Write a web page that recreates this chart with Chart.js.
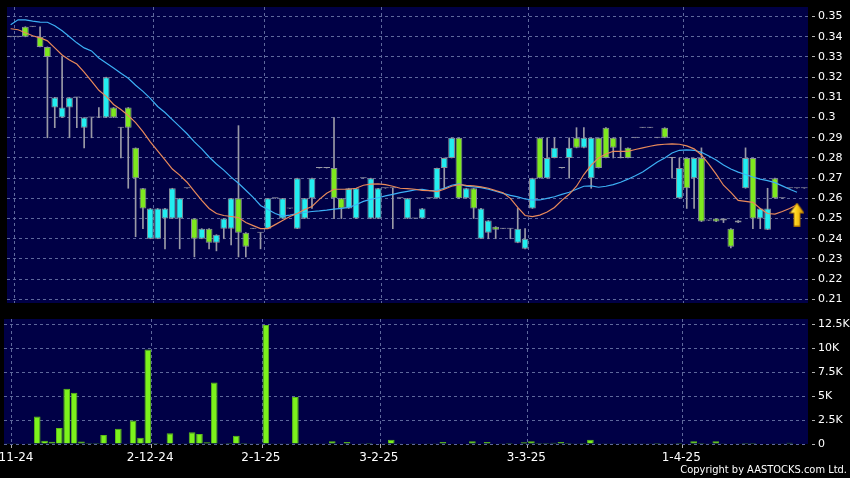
<!DOCTYPE html>
<html>
<head>
<meta charset="utf-8">
<script src="https://cdn.jsdelivr.net/npm/chart.js@4.4.1/dist/chart.umd.min.js"></script>
<style>
html,body{margin:0;padding:0;background:#000;}
#wrap{position:relative;width:850px;height:478px;overflow:hidden;background:#000;}
#price{position:absolute;left:0;top:0;}
#vol{position:absolute;left:0;top:310px;}
#copy{position:absolute;right:3px;top:464px;color:#fff;font-family:"DejaVu Sans Condensed","DejaVu Sans",sans-serif;font-stretch:condensed;font-size:11px;line-height:12px;white-space:nowrap;}
</style>
</head>
<body>
<div id="wrap">
<canvas id="price" width="850" height="310"></canvas>
<canvas id="vol" width="850" height="168"></canvas>
<div id="copy">Copyright by AASTOCKS.com Ltd.</div>
</div>
<script>
// ---- data (one entry per trading slot) ----
const monthTickIndex = [1, 20, 35, 51, 71, 92];
const monthTickText = ['1-11-24', '2-12-24', '2-1-25', '3-2-25', '3-3-25', '1-4-25'];

const open = [
0.34,0.34,0.345,0.345,0.34,0.335,0.305,0.30,0.305,0.31,
0.295,0.30,0.30,0.30,0.305,0.295,0.305,0.285,0.265,0.24,
0.24,0.25,0.25,0.25,0.265,0.25,0.24,0.245,0.238,0.245,
0.245,0.26,0.243,0.245,0.243,0.245,0.26,0.25,0.255,0.245,
0.25,0.26,0.275,0.275,0.275,0.26,0.255,0.25,0.27,0.25,
0.25,0.265,0.265,0.26,0.25,0.25,0.25,0.26,0.26,0.275,
0.28,0.29,0.26,0.265,0.24,0.243,0.246,0.245,0.245,0.238,
0.235,0.255,0.29,0.27,0.28,0.275,0.28,0.29,0.285,0.27,
0.29,0.295,0.29,0.28,0.285,0.29,0.295,0.295,0.29,0.295,
0.28,0.26,0.28,0.27,0.28,0.249,0.25,0.25,0.245,0.248,
0.265,0.28,0.25,0.2445,0.27,0.26,0.265,0.265,0.265];
const high = [
0.34,0.34,0.345,0.345,0.345,0.335,0.31,0.33,0.31,0.31,
0.30,0.30,0.305,0.32,0.305,0.295,0.305,0.285,0.265,0.255,
0.255,0.255,0.265,0.26,0.265,0.25,0.245,0.245,0.242,0.25,
0.26,0.296,0.243,0.245,0.243,0.26,0.26,0.26,0.255,0.27,
0.26,0.27,0.275,0.275,0.30,0.26,0.265,0.265,0.27,0.27,
0.265,0.265,0.265,0.26,0.26,0.25,0.255,0.26,0.275,0.28,
0.29,0.29,0.265,0.265,0.255,0.249,0.246,0.245,0.245,0.255,
0.245,0.27,0.29,0.29,0.29,0.275,0.29,0.295,0.295,0.29,
0.29,0.295,0.29,0.29,0.285,0.29,0.295,0.295,0.29,0.295,
0.28,0.28,0.28,0.28,0.285,0.249,0.25,0.25,0.245,0.249,
0.285,0.28,0.255,0.265,0.27,0.26,0.265,0.265,0.265];
const low = [
0.34,0.34,0.34,0.345,0.335,0.29,0.295,0.30,0.29,0.295,
0.285,0.29,0.30,0.30,0.30,0.28,0.265,0.241,0.245,0.24,
0.24,0.235,0.25,0.235,0.265,0.231,0.24,0.235,0.234,0.24,
0.237,0.231,0.231,0.245,0.235,0.245,0.26,0.25,0.255,0.245,
0.25,0.255,0.275,0.275,0.25,0.25,0.255,0.25,0.27,0.25,
0.25,0.265,0.245,0.26,0.25,0.25,0.25,0.26,0.26,0.265,
0.28,0.26,0.26,0.25,0.24,0.24,0.24,0.245,0.24,0.238,
0.235,0.255,0.27,0.27,0.28,0.275,0.27,0.285,0.285,0.265,
0.275,0.28,0.28,0.28,0.28,0.29,0.295,0.295,0.29,0.29,
0.27,0.26,0.255,0.255,0.2485,0.249,0.2485,0.248,0.2355,0.248,
0.265,0.245,0.245,0.2445,0.26,0.26,0.265,0.265,0.265];
const close = [
0.34,0.34,0.34,0.345,0.335,0.33,0.31,0.305,0.31,0.31,
0.30,0.30,0.30,0.32,0.30,0.295,0.295,0.27,0.255,0.255,
0.255,0.255,0.265,0.26,0.265,0.24,0.245,0.238,0.242,0.25,
0.26,0.243,0.236,0.245,0.243,0.26,0.26,0.26,0.255,0.27,
0.26,0.27,0.275,0.275,0.26,0.255,0.265,0.265,0.27,0.27,
0.265,0.265,0.265,0.26,0.26,0.25,0.255,0.26,0.275,0.28,
0.29,0.26,0.265,0.255,0.255,0.249,0.2445,0.245,0.245,0.245,
0.24,0.27,0.27,0.28,0.285,0.275,0.285,0.285,0.29,0.29,
0.275,0.28,0.285,0.28,0.28,0.29,0.295,0.295,0.29,0.29,
0.28,0.275,0.265,0.28,0.2485,0.249,0.2485,0.249,0.236,0.249,
0.28,0.25,0.255,0.255,0.26,0.26,0.265,0.265,0.265];
const volume = [
20,20,50,20,2860,350,240,1680,5760,5340,
250,100,100,940,30,1600,30,2440,660,9850,
100,30,1110,60,20,1220,1050,170,6420,30,
100,870,100,20,20,12400,30,80,30,4890,
80,30,20,20,280,50,200,40,20,100,
40,20,450,30,60,20,40,30,80,200,
50,60,40,280,60,200,50,30,100,40,
170,280,100,100,120,200,100,30,100,450,
80,80,80,20,30,20,20,20,100,30,
30,100,40,280,100,30,280,80,40,30,
100,100,40,40,30,30,130,0,0];
const maFast = [
0.3440,0.3435,0.3420,0.3405,0.3395,0.3380,0.3345,0.3310,0.3285,0.3265,
0.3225,0.3180,0.3135,0.3105,0.3065,0.3040,0.3010,0.2975,0.2930,0.2880,
0.2835,0.2790,0.2745,0.2715,0.2680,0.2635,0.2590,0.2550,0.2525,0.2515,
0.2510,0.2505,0.2480,0.2465,0.2450,0.2450,0.2470,0.2490,0.2510,0.2525,
0.2545,0.2560,0.2595,0.2625,0.2645,0.2645,0.2645,0.2650,0.2665,0.2670,
0.2672,0.2668,0.2660,0.2650,0.2648,0.2645,0.2640,0.2638,0.2633,0.2645,
0.2660,0.2668,0.2664,0.2662,0.2657,0.2650,0.2638,0.2628,0.2600,0.2555,
0.2515,0.2510,0.2517,0.2532,0.2555,0.2590,0.2620,0.2660,0.2718,0.2765,
0.2800,0.2820,0.2833,0.2833,0.2833,0.2842,0.2850,0.2858,0.2865,0.2868,
0.2870,0.2868,0.2860,0.2845,0.2815,0.2770,0.2720,0.2665,0.2630,0.2590,
0.2585,0.2580,0.2550,0.2525,0.2522,0.2535,0.2550,0.2568,null];
const maSlow = [
0.3460,0.3484,0.3484,0.3478,0.3473,0.3472,0.3455,0.3430,0.3400,0.3370,
0.3345,0.3330,0.3295,0.3270,0.3245,0.3220,0.3195,0.3160,0.3130,0.3095,
0.3055,0.3025,0.2990,0.2955,0.2920,0.2880,0.2845,0.2805,0.2770,0.2740,
0.2705,0.2675,0.2640,0.2605,0.2565,0.2545,0.2525,0.2512,0.2517,0.2525,
0.2530,0.2535,0.2538,0.2542,0.2547,0.2550,0.2555,0.2568,0.2585,0.2595,
0.2603,0.2612,0.2620,0.2628,0.2635,0.2642,0.2645,0.2638,0.2640,0.2650,
0.2665,0.2672,0.2661,0.2657,0.2653,0.2645,0.2635,0.2625,0.2615,0.2607,
0.2597,0.2592,0.2592,0.2600,0.2608,0.2620,0.2630,0.2645,0.2660,0.2662,
0.2655,0.2660,0.2668,0.2680,0.2695,0.2712,0.2730,0.2755,0.2780,0.2800,
0.2825,0.2838,0.2840,0.2838,0.2828,0.2810,0.2790,0.2765,0.2745,0.2730,
0.2718,0.2706,0.2695,0.2688,0.2678,0.2662,0.2645,0.2630,null];
const signalIndex = [107];
const signalPrice = [0.252];
const priceTicks = [0.21,0.22,0.23,0.24,0.25,0.26,0.27,0.28,0.29,0.30,0.31,0.32,0.33,0.34,0.35];
const volTicks = [0, 2500, 5000, 7500, 10000, 12500];
const volTickText = ['0', '2.5K', '5K', '7.5K', '10K', '12.5K'];

// ---- derived structures for the library ----
const N = open.length;
const labels = new Array(N).fill('');
monthTickIndex.forEach((k, j) => { labels[k] = monthTickText[j]; });
const bodies = open.map((o, i) => [Math.min(o, close[i]), Math.max(o, close[i])]);
const wicks = low.map((l, i) => [l, high[i]]);
const signal = new Array(N).fill(null);
signalIndex.forEach((k, j) => { signal[k] = signalPrice[j]; });

const NAVY = '#000046';
const GRID = '#5e689c';
const CYAN = '#22eef0';
const GREEN = '#7ee81e';
const GRAY = '#9a9aa6';
const clear = 'rgba(0,0,0,0)';

const bgPlugin = {
  id: 'bgPanel',
  beforeDraw(chart) {
    const a = chart.chartArea, c = chart.ctx;
    c.save(); c.fillStyle = NAVY;
    c.fillRect(a.left, a.top, a.right - a.left, a.bottom - a.top);
    c.restore();
  }
};

// arrow marker image
const arrow = document.createElement('canvas');
arrow.width = 15; arrow.height = 24;
(function () {
  const g = arrow.getContext('2d');
  const grad = g.createLinearGradient(0, 0, 15, 0);
  grad.addColorStop(0, '#fff58a'); grad.addColorStop(0.45, '#ffd21a'); grad.addColorStop(1, '#d08f00');
  g.fillStyle = grad;
  g.beginPath();
  g.moveTo(7.5, 0.5); g.lineTo(14.5, 10.5); g.lineTo(10.5, 10.5); g.lineTo(10.5, 23.5);
  g.lineTo(4.5, 23.5); g.lineTo(4.5, 10.5); g.lineTo(0.5, 10.5); g.closePath();
  g.fill();
  g.strokeStyle = '#a86f00'; g.lineWidth = 1; g.stroke();
})();

const xGridColor = ctx => (ctx.tick && ctx.tick.label) ? GRID : clear;
const bodyColor = ctx => {
  const i = ctx.dataIndex;
  if (close[i] > open[i]) return CYAN;
  if (close[i] < open[i]) return GREEN;
  return GRAY;
};
const bodyBorder = ctx => {
  const i = ctx.dataIndex;
  return close[i] === open[i] ? GRAY : '#8a8f98';
};

Chart.defaults.font.family = 'DejaVu Sans';

new Chart(document.getElementById('price'), {
  type: 'bar',
  data: {
    labels: labels,
    datasets: [
      { type: 'line', label: 'signal', data: signal, showLine: false, pointStyle: arrow, pointRadius: 6, order: -1 },
      { type: 'line', label: 'MA10', data: maFast, borderColor: '#e8895a', borderWidth: 1.2, pointRadius: 0, tension: 0, order: 0 },
      { type: 'line', label: 'MA20', data: maSlow, borderColor: '#3cb0f5', borderWidth: 1.2, pointRadius: 0, tension: 0, order: 0 },
      { type: 'bar', label: 'body', data: bodies, grouped: false, barPercentage: 0.92, categoryPercentage: 1,
        minBarLength: 1, backgroundColor: bodyColor, borderColor: bodyBorder, borderWidth: 1, borderSkipped: false, order: 1 },
      { type: 'bar', label: 'wick', data: wicks, grouped: false, barThickness: 1, backgroundColor: GRAY, order: 2 }
    ]
  },
  options: {
    responsive: false, animation: false, devicePixelRatio: 1, events: [],
    layout: { padding: { left: 4, top: 6, right: 0, bottom: 5 } },
    plugins: { legend: { display: false }, tooltip: { enabled: false } },
    scales: {
      x: {
        offset: true,
        grid: { offset: true, color: xGridColor, drawTicks: false, borderDash: [3, 3] },
        border: { display: false, dash: [3, 3] },
        ticks: { display: false, autoSkip: false, maxRotation: 0, minRotation: 0 },
        afterFit: s => { s.height = 0; s.paddingLeft = 0; s.paddingRight = 0; }
      },
      y: {
        position: 'right', min: 0.20818, max: 0.35476,
        afterBuildTicks: s => { s.ticks = priceTicks.map(v => ({ value: v })); },
        ticks: { color: '#ffffff', font: { size: 11 }, padding: 3,
          callback: v => String(+Number(v).toFixed(2)) },
        grid: { color: GRID, borderDash: [3, 3], tickLength: 7, tickColor: '#b0b0b0',
          tickBorderDash: [4, 4], tickBorderDashOffset: 4 },
        border: { display: false, dash: [3, 3] },
        afterFit: s => { s.width = 42; s.paddingTop = 0; s.paddingBottom = 0; }
      }
    }
  },
  plugins: [bgPlugin]
});

new Chart(document.getElementById('vol'), {
  type: 'bar',
  data: {
    labels: labels,
    datasets: [
      { label: 'Volume', data: volume, barPercentage: 0.9, categoryPercentage: 1,
        backgroundColor: '#7cf21c', borderColor: '#5cbc18', borderWidth: 1 }
    ]
  },
  options: {
    responsive: false, animation: false, devicePixelRatio: 1, events: [],
    layout: { padding: { left: 4, top: 9, right: 0, bottom: 0 } },
    plugins: { legend: { display: false }, tooltip: { enabled: false } },
    scales: {
      x: {
        offset: true,
        grid: { offset: true, color: xGridColor, borderDash: [3, 3], tickLength: 4,
          tickColor: ctx => (ctx.tick && ctx.tick.label) ? '#b0b0b0' : clear, tickBorderDash: [] },
        border: { display: false, dash: [3, 3] },
        ticks: { autoSkip: false, maxRotation: 0, minRotation: 0, color: '#ffffff',
          font: { size: 12 }, padding: 3, labelOffset: -5 },
        afterFit: s => { s.height = 34; s.paddingLeft = 0; s.paddingRight = 0; }
      },
      y: {
        position: 'right', min: 0, max: 13024,
        afterBuildTicks: s => { s.ticks = volTicks.map(v => ({ value: v })); },
        ticks: { color: '#ffffff', font: { size: 11 }, padding: 3,
          callback: (v, i) => volTickText[i] },
        grid: { color: GRID, borderDash: [3, 3], tickLength: 7, tickColor: '#b0b0b0',
          tickBorderDash: [4, 4], tickBorderDashOffset: 4 },
        border: { display: false, dash: [3, 3] },
        afterFit: s => { s.width = 42; s.paddingTop = 0; s.paddingBottom = 0; }
      }
    }
  },
  plugins: [bgPlugin]
});
</script>
</body>
</html>
